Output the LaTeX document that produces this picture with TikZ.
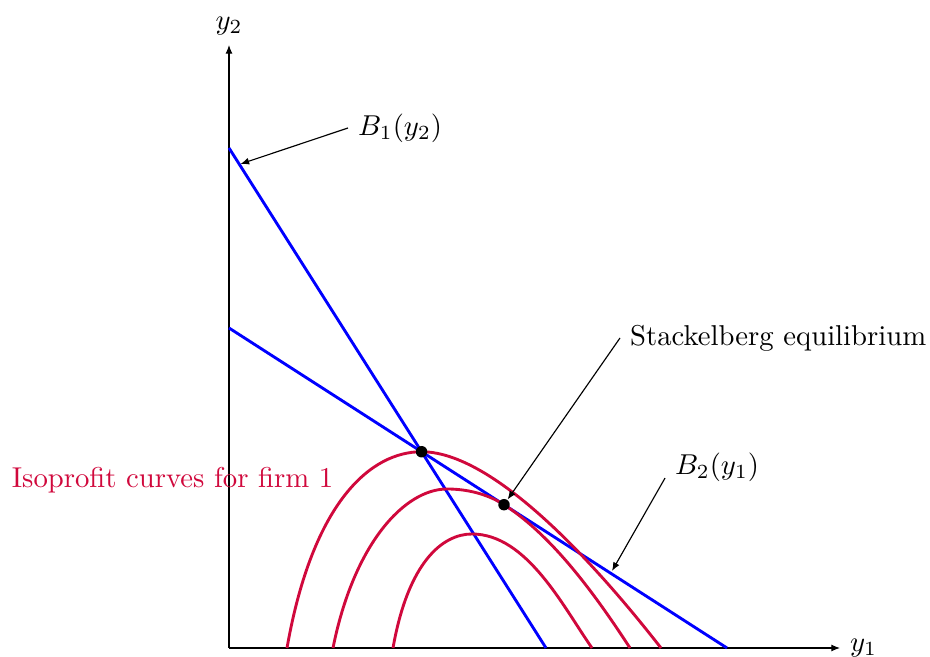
\documentclass[tikz,border=0pt]{standalone}
\usepackage{amsmath}
\usepackage{tikz}
\usetikzlibrary{arrows.meta,calc}
\definecolor{clBest}{RGB}{0,0,255}
\definecolor{clIso}{RGB}{208,8,60}
\tikzset{
  axis/.style={-{Latex[length=3pt,width=2.4pt]}, thin},
  bestresp/.style={draw=clBest, line width=1pt},
  isoprofit/.style={draw=clIso, line width=1pt},
  callout/.style={-{Latex[length=3pt,width=2.4pt]}, thin},
  eqdot/.style={circle, fill=black, inner sep=0pt, minimum size=4pt},
}

\begin{document}
\begin{tikzpicture}[x=0.612cm, y=0.612cm]
  \useasboundingbox (-4.58,-0.18) rectangle (14.02,12.96);
  % axes
  \coordinate (o) at (0,0);
  \coordinate (xend) at (12.22,0);
  \coordinate (yend) at (0,12.06);
  \draw[axis] (o) -- (xend) node[right] (xlab) {$y_1$};
  \draw[axis] (o) -- (yend) node[above] (ylab) {$y_2$};
  % reaction functions
  \coordinate (b1s) at (0,10);
  \coordinate (b1e) at (6.34,0);
  \coordinate (b2s) at (0,6.4);
  \coordinate (b2e) at (9.96,0);
  \draw[bestresp] (b1s) -- (b1e);
  \draw[bestresp] (b2s) -- (b2e);
  \coordinate (cournot) at (intersection of b1s--b1e and b2s--b2e);
  \coordinate (stack) at ($(b2s)!0.5522!(b2e)$);
  % isoprofit curves of firm 1
  \draw[isoprofit] (1.16,0) .. controls (1.68,2.95) and (2.85,3.925) .. (cournot)
    .. controls (5.45,3.925) and (7.717,1.182) .. (8.64,0);
  \draw[isoprofit] (2.08,0) .. controls (2.5,2.1) and (3.52,3.18) .. (4.36,3.18)
    .. controls (4.76,3.18) and (5.163,3.082) .. (stack)
    .. controls (6.425,2.271) and (7.257,1.175) .. (8.02,0);
  \draw[isoprofit] (3.28,0) .. controls (3.584,1.726) and (4.275,2.28) .. (4.86,2.28)
    .. controls (5.96,2.28) and (6.686,0.819) .. (7.26,0);
  \node[eqdot] (cdot) at (cournot) {};
  \node[eqdot] (sdot) at (stack) {};
  % labels
  \node[anchor=west] (b1lab) at (2.38,10.4) {$B_1(y_2)$};
  \coordinate (b1pt) at (0.23,9.68);
  \draw[callout] (b1lab.west) -- (b1pt);
  \node[anchor=west] (stacklab) at (7.82,6.2) {Stackelberg equilibrium};
  \draw[callout] (stacklab.west) -- (sdot);
  \node[anchor=west] (b2lab) at (8.72,3.62) {$B_2(y_1)$};
  \coordinate (b2pt) at (7.66,1.54);
  \draw[callout] (b2lab.192) -- (b2pt);
  \node[text=clIso] (isolab) at (-1.13,3.36) {Isoprofit curves for firm 1};
\end{tikzpicture}
\end{document}
